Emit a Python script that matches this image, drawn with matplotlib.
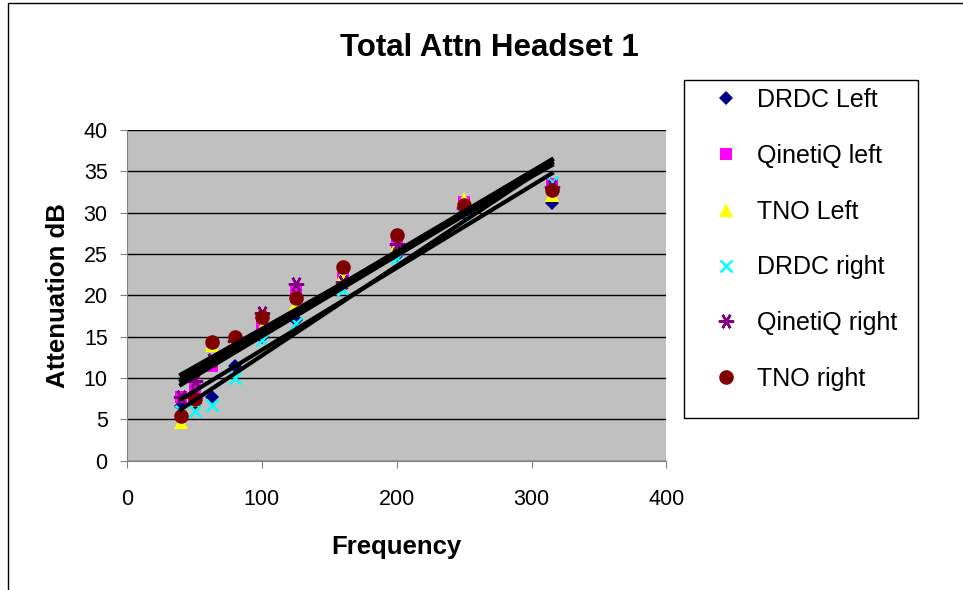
import matplotlib.pyplot as plt
import numpy as np
from matplotlib.patches import Rectangle

plt.rcParams['font.family'] = ['Liberation Sans', 'DejaVu Sans']

# frequencies and attenuation values
freq = [40, 50, 63, 80, 100, 125, 160, 200, 250, 315]

drdc_left = [6.6, 7.0, 7.7, 11.4, 14.9, 17.0, 21.3, 24.9, 30.0, 31.2]
qinetiq_left = [7.7, 8.8, 11.5, 14.0, 16.4, 20.4, 22.1, 26.5, 31.3, 33.4]
tno_left = [4.7, 7.3, 14.0, 14.6, 16.0, 18.9, 22.5, 26.1, 31.6, 32.1]
drdc_right = [6.0, 6.0, 6.8, 10.0, 14.6, 16.7, 20.6, 24.5, 29.8, 33.7]
qinetiq_right = [7.7, 9.6, 12.2, 14.5, 17.9, 21.4, 21.6, 26.2, 30.5, 33.1]
tno_right = [5.4, 7.5, 14.4, 15.0, 17.4, 19.7, 23.4, 27.3, 30.9, 32.7]

series = [
    ('DRDC Left', drdc_left, 'D', '#000080', 7),
    ('QinetiQ left', qinetiq_left, 's', '#FF00FF', 8.5),
    ('TNO Left', tno_left, '^', '#FFFF00', 9.5),
    ('DRDC right', drdc_right, 'x', '#00FFFF', 9),
    ('QinetiQ right', qinetiq_right, (6, 2, 90), '#800080', 11),
    ('TNO right', tno_right, 'o', '#800000', 10.5),
]

fig = plt.figure(figsize=(9.63, 5.9), dpi=100)
ax = fig.add_axes([0.132, 0.219, 0.560, 0.561])
ax.set_facecolor('#C0C0C0')

x = np.array(freq)
for name, vals, mk, col, ms in series:
    if mk in ('x', (6, 2, 90)):
        ax.plot(x, vals, linestyle='none', marker=mk, color=col, markersize=ms,
                markeredgewidth=1.8, label=name, zorder=3)
    else:
        ax.plot(x, vals, linestyle='none', marker=mk, color=col, markersize=ms,
                markeredgewidth=0, label=name, zorder=3)

# linear trend lines
for name, vals, mk, col, ms in series:
    m, b = np.polyfit(x, vals, 1)
    xx = np.array([x.min(), x.max()])
    ax.plot(xx, m * xx + b, color='black', linewidth=3, zorder=4)

ax.set_xlim(0, 400)
ax.set_ylim(0, 40)
ax.set_xticks(np.arange(0, 401, 100))
ax.set_yticks(np.arange(0, 41, 5))
ax.yaxis.grid(True, color='black', linewidth=1)
ax.set_axisbelow(True)
for s in ['top', 'right']:
    ax.spines[s].set_visible(False)
ax.spines['left'].set_color('#808080')
ax.spines['bottom'].set_color('#808080')
ax.tick_params(labelsize=15.5, direction='out', length=5, color='#808080')
ax.tick_params(axis='x', pad=15)
ax.tick_params(axis='y', pad=9)

ax.set_xlabel('Frequency', fontsize=18.5, fontweight='bold', labelpad=18)
ax.set_ylabel('Attenuation dB', fontsize=18.5, fontweight='bold', labelpad=10)
fig.text(0.508, 0.918, 'Total Attn Headset 1', ha='center', va='center',
         fontsize=22.5, fontweight='bold')

handles, labels = ax.get_legend_handles_labels()
leg = fig.legend(handles, labels, loc='upper left', bbox_to_anchor=(0.712, 0.872),
                 fontsize=18, frameon=False,
                 labelspacing=1.27, handletextpad=0.15, borderpad=0.0,
                 handlelength=2.2)

# legend box and outer chart border
fig.patches.append(Rectangle((0.710, 0.292), 0.243, 0.573, transform=fig.transFigure,
                             fill=False, edgecolor='black', linewidth=1))
fig.patches.append(Rectangle((0.008, -0.01), 1.0, 1.005, transform=fig.transFigure,
                             fill=False, edgecolor='black', linewidth=1))

fig.savefig('out.png', dpi=100)
